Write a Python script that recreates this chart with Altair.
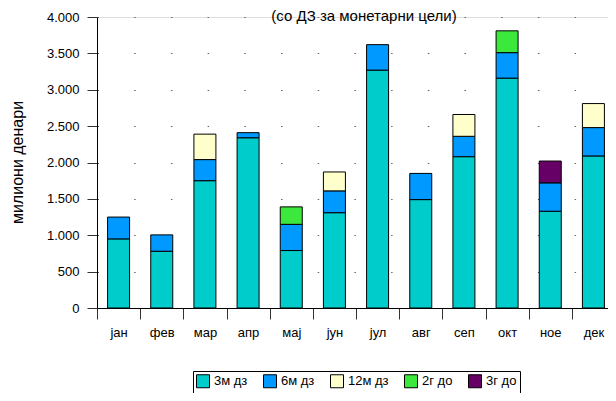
import altair as alt
import pandas as pd

months = ["јан", "фев", "мар", "апр", "мај", "јун", "јул", "авг", "сеп", "окт", "ное", "дек"]
series = ["3м дз", "6м дз", "12м дз", "2г до", "3г до"]
colors = ["#00CCCC", "#0099FF", "#FFFFCC", "#3DE83D", "#660066"]

v_3m = [950, 780, 1750, 2340, 790, 1310, 3270, 1490, 2080, 3160, 1330, 2090]
v_6m = [300, 225, 290, 70, 360, 300, 350, 360, 280, 350, 390, 390]
v_12m = [0, 0, 350, 0, 0, 260, 0, 0, 300, 0, 0, 330]
v_2g = [0, 0, 0, 0, 240, 0, 0, 0, 0, 300, 0, 0]
v_3g = [0, 0, 0, 0, 0, 0, 0, 0, 0, 0, 300, 0]

title_text = ["(со ДЗ за монетарни цели)"]
y_title = "милиони денари"

rows = []
for s_i, (s, vals) in enumerate(zip(series, [v_3m, v_6m, v_12m, v_2g, v_3g])):
    for m, v in zip(months, vals):
        if v > 0:
            rows.append({"month": m, "series": s, "value": v, "ord": s_i})
df = pd.DataFrame(rows)

FONT = "Arial, Liberation Sans"

bars = alt.Chart(df).mark_bar(stroke="black", strokeWidth=1, size=22).encode(
    x=alt.X("month:N", sort=months, title=None,
            scale=alt.Scale(domain=months, range=[0, 518], paddingInner=0, paddingOuter=0),
            axis=alt.Axis(tickBand="extent", labelAngle=0, tickSize=11, labelPadding=7,
                          domainColor="black", tickColor="#333", grid=False,
                          labelFont=FONT, labelFontSize=13, labelColor="black")),
    y=alt.Y("value:Q", stack="zero", title=y_title,
            scale=alt.Scale(domain=[0, 4000], nice=False),
            axis=alt.Axis(values=[0, 500, 1000, 1500, 2000, 2500, 3000, 3500, 4000],
                          labelExpr="replace(format(datum.value, ','), ',', '.')",
                          tickSize=10, labelPadding=8, domainColor="black", tickColor="#333",
                          grid=True, gridColor="#666", gridWidth=1, gridDash=[1.5, 35.2],
                          labelFont=FONT, labelFontSize=13, labelColor="black",
                          titleFont=FONT, titleFontSize=16, titleFontWeight="normal",
                          titleColor="black", titleAngle=270, titleX=-80, titleY=145,
                          titleAlign="center", titleBaseline="middle")),
    color=alt.Color("series:N", scale=alt.Scale(domain=series, range=colors),
                    legend=alt.Legend(title=None, orient="none", legendX=96, legendY=354,
                                      direction="horizontal", columns=5, gridAlign="each",
                                      columnPadding=13, symbolType="square", symbolSize=169,
                                      symbolStrokeColor="black", symbolStrokeWidth=1,
                                      labelFont=FONT, labelFontSize=13, labelColor="black",
                                      labelOffset=4, strokeColor="black", padding=3,
                                      fillColor="white")),
    order=alt.Order("ord:Q", sort="ascending"),
)

title = alt.Chart(pd.DataFrame({"t": title_text})).mark_text(
    font=FONT, fontSize=15, color="black", align="center", baseline="alphabetic"
).encode(text="t:N", x=alt.value(267), y=alt.value(4))

chart = alt.layer(bars, title).properties(
    width=511, height=291,
    autosize=alt.AutoSizeParams(type="none"),
    padding={"left": 89, "top": 9, "right": 0, "bottom": 85},
).configure_view(stroke=None).configure(background="white")

chart.save("out.html", embed_options={"renderer": "svg", "actions": False})
